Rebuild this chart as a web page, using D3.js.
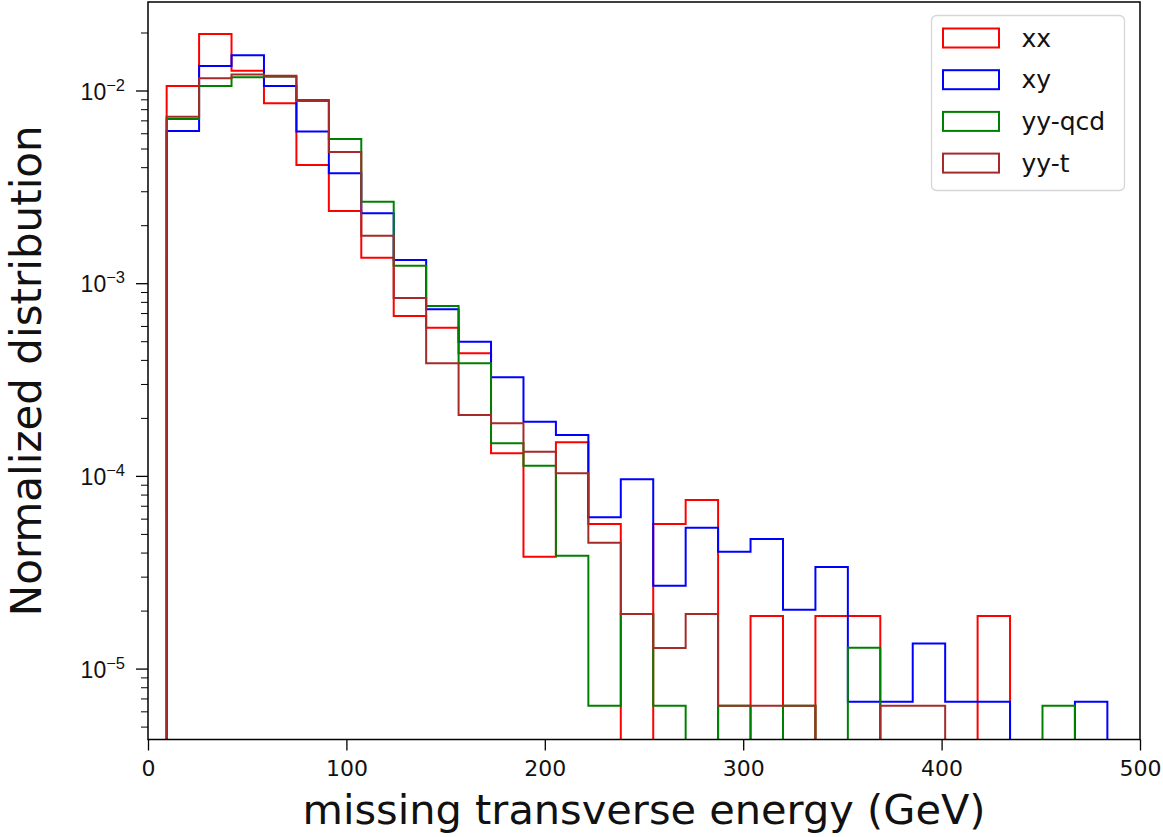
<!DOCTYPE html>
<html>
<head>
<meta charset="utf-8">
<script src="https://cdn.jsdelivr.net/npm/d3@7"></script>
<style>
  body { margin: 0; background: #fff; }
  svg { display: block; font-family: "DejaVu Sans", sans-serif; }
</style>
</head>
<body>
<svg id="chart" width="1163" height="837"></svg>
<script>
// bin edges (GeV), 29 bins
const binEdges = [9.4, 25.75, 42.1, 58.45, 74.8, 91.15, 107.5, 123.85, 140.2, 156.55,
    172.9, 189.25, 205.6, 221.95, 238.3, 254.65, 271.0, 287.35, 303.7, 320.05,
    336.4, 352.75, 369.1, 385.45, 401.8, 418.15, 434.5, 450.85, 467.2, 483.55];

// normalized counts per bin
const xx = [0.01055, 0.01964, 0.01267, 0.00859, 0.00410, 0.00237, 0.001356, 6.76e-4, 5.88e-4, 4.33e-4,
    1.31e-4, 3.81e-5, 1.494e-4, 5.63e-5, 0, 5.63e-5, 7.50e-5, 0, 1.875e-5, 0,
    1.875e-5, 1.875e-5, 0, 0, 0, 1.875e-5, 0, 0, 0];
const xy = [0.006164, 0.01340, 0.01523, 0.01055, 0.006127, 0.003718, 0.002305, 0.001319, 7.32e-4, 4.97e-4,
    3.25e-4, 1.91e-4, 1.63e-4, 6.10e-5, 9.60e-5, 2.69e-5, 5.38e-5, 4.04e-5, 4.71e-5, 2.02e-5,
    3.37e-5, 6.73e-6, 6.73e-6, 1.35e-5, 6.73e-6, 6.73e-6, 0, 0, 6.73e-6];
const yyQcd = [0.00711, 0.01055, 0.01171, 0.01179, 0.008928, 0.005603, 0.002648, 0.001232, 7.61e-4, 3.84e-4,
    1.476e-4, 1.129e-4, 3.85e-5, 6.42e-6, 1.92e-5, 6.42e-6, 0, 6.42e-6, 0, 6.42e-6,
    0, 1.284e-5, 0, 0, 0, 0, 0, 6.42e-6, 0];
const yyT = [0.00731, 0.01157, 0.0121, 0.01193, 0.008821, 0.00479, 0.001764, 8.38e-4, 3.84e-4, 2.07e-4,
    1.875e-4, 1.336e-4, 1.031e-4, 4.50e-5, 1.92e-5, 1.28e-5, 1.92e-5, 6.41e-6, 6.41e-6, 6.41e-6,
    0, 0, 6.41e-6, 6.41e-6, 0, 0, 0, 0, 0];

const seriesNames = ['xx', 'xy', 'yy-qcd', 'yy-t'];
const seriesColors = ['red', 'blue', 'green', 'brown'];
const xTicks = [0, 100, 200, 300, 400, 500];
const yTickExps = [-2, -3, -4, -5];

function drawChart() {
    const svg = d3.select('#chart');
    const margin = {top: 2, right: 23, bottom: 97.5, left: 148};
    const width = +svg.attr('width') - margin.left - margin.right;
    const height = +svg.attr('height') - margin.top - margin.bottom;

    const g = svg.append('g')
        .attr('transform', `translate(${margin.left},${margin.top})`);

    const x = d3.scaleLinear().domain([0, 500]).range([0, width]);
    const y = d3.scaleLog().domain([Math.pow(10, -5.368), Math.pow(10, -1.5407)]).range([height, 0]);

    svg.append('defs').append('clipPath').attr('id', 'plot-clip')
        .append('rect').attr('width', width).attr('height', height);

    // step histograms, empty bins drop below the axis
    const yPos = v => v > 0 ? y(v) : height + 20;
    const allSeries = [xx, xy, yyQcd, yyT];
    const line = d3.line().x(d => d[0]).y(d => d[1]);

    allSeries.forEach((vals, i) => {
        const pts = [[x(binEdges[0]), height + 20]];
        vals.forEach((v, j) => {
            pts.push([x(binEdges[j]), yPos(v)]);
            pts.push([x(binEdges[j + 1]), yPos(v)]);
        });
        pts.push([x(binEdges[binEdges.length - 1]), height + 20]);
        g.append('path')
            .attr('clip-path', 'url(#plot-clip)')
            .attr('d', line(pts))
            .attr('fill', 'none')
            .attr('stroke', seriesColors[i])
            .attr('stroke-width', 2);
    });

    // x axis
    const xAxis = g.append('g')
        .attr('transform', `translate(0,${height})`)
        .call(d3.axisBottom(x).tickValues(xTicks).tickSize(11).tickPadding(10).tickSizeOuter(0));
    xAxis.select('.domain').remove();
    xAxis.selectAll('.tick line').attr('stroke', '#000').attr('stroke-width', 1.3);
    xAxis.selectAll('.tick text')
        .attr('font-size', 22).attr('fill', '#111')
        .attr('font-family', '"DejaVu Sans", sans-serif');

    // y axis minor ticks
    const minor = y.ticks().filter(v => Math.abs(Math.log10(v) - Math.round(Math.log10(v))) > 1e-6);
    const yMinor = g.append('g')
        .call(d3.axisLeft(y).tickValues(minor).tickSize(7).tickFormat('').tickSizeOuter(0));
    yMinor.select('.domain').remove();
    yMinor.selectAll('.tick line').attr('stroke', '#000').attr('stroke-width', 1);

    // y axis major ticks
    const yMajor = g.append('g')
        .call(d3.axisLeft(y).tickValues(yTickExps.map(e => Math.pow(10, e)))
            .tickSize(12).tickPadding(12).tickFormat('').tickSizeOuter(0));
    yMajor.select('.domain').remove();
    yMajor.selectAll('.tick line').attr('stroke', '#000').attr('stroke-width', 1.3);
    yMajor.selectAll('.tick').each(function (d) {
        const t = d3.select(this).append('text')
            .attr('x', -23).attr('y', 8.5)
            .attr('text-anchor', 'end')
            .attr('fill', '#111')
            .attr('font-size', 23);
        t.append('tspan').text('10');
        t.append('tspan').attr('dy', -9).attr('font-size', 16.5)
            .text('\u2212' + Math.round(-Math.log10(d)));
    });

    // frame
    g.append('rect')
        .attr('width', width).attr('height', height)
        .attr('fill', 'none').attr('stroke', '#000').attr('stroke-width', 1.5);

    // axis labels
    svg.append('text')
        .attr('x', margin.left + width / 2).attr('y', 824)
        .attr('text-anchor', 'middle')
        .attr('font-size', 41.5).attr('fill', '#111')
        .text('missing transverse energy (GeV)');
    svg.append('text')
        .attr('transform', `translate(41,${margin.top + height / 2}) rotate(-90)`)
        .attr('text-anchor', 'middle')
        .attr('font-size', 42).attr('fill', '#111')
        .text('Normalized distribution');

    // legend
    const lg = svg.append('g').attr('transform', 'translate(931.5,15.5)');
    lg.append('rect')
        .attr('width', 193).attr('height', 175).attr('rx', 5)
        .attr('fill', 'rgba(255,255,255,0.8)').attr('stroke', '#d6d6d6').attr('stroke-width', 1.3);
    seriesNames.forEach((name, i) => {
        const row = lg.append('g').attr('transform', `translate(0,${i * 41.7})`);
        row.append('rect')
            .attr('x', 11.5).attr('y', 13).attr('width', 56).attr('height', 19)
            .attr('fill', 'none').attr('stroke', seriesColors[i]).attr('stroke-width', 2);
        row.append('text')
            .attr('x', 90).attr('y', 31)
            .attr('font-size', 25).attr('fill', '#111')
            .text(name);
    });
}

drawChart();
</script>
</body>
</html>
